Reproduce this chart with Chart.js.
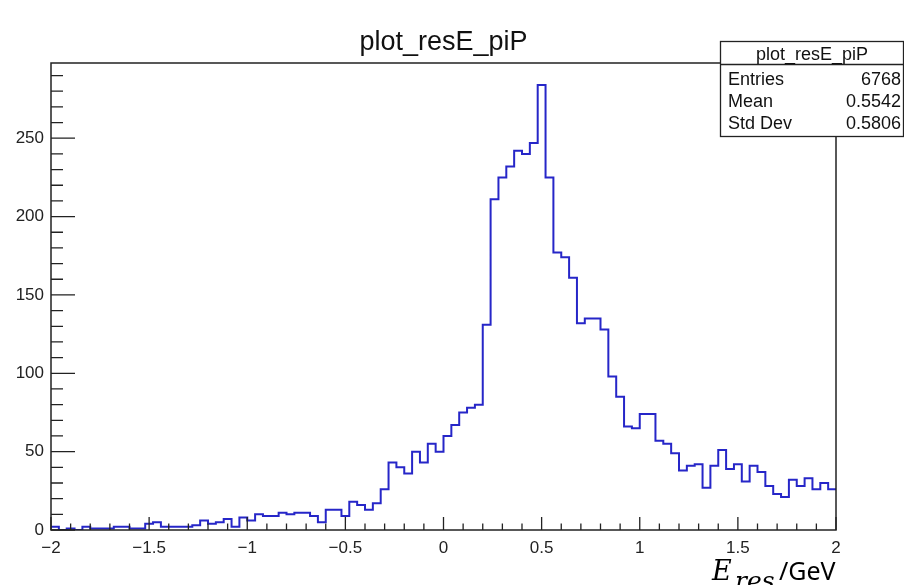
<!DOCTYPE html>
<html>
<head>
<meta charset="utf-8">
<title>plot_resE_piP</title>
<script src="https://cdn.jsdelivr.net/npm/chart.js@4.4.0/dist/chart.umd.min.js"></script>
<style>
    html, body { margin: 0; padding: 0; background: #ffffff; }
    #wrap { width: 904px; height: 585px; }
</style>
</head>
<body>
<div id="wrap"><canvas id="hist" width="904" height="585"></canvas></div>
<script>
// Histogram definition (100 bins from -2 to 2)
var xMin = -2;
var xMax = 2;
var yMax = 298;

// Bin contents, left to right
var counts = [
    2, 0, 1, 0, 2, 1, 1, 1, 2, 2,
    1, 1, 4, 5, 2, 2, 2, 2, 3, 6,
    4, 5, 7, 2, 8, 6, 10, 9, 9, 11,
    10, 11, 11, 9, 5, 13, 13, 9, 18, 16,
    13, 17, 26, 43, 40, 36, 50, 43, 55, 50,
    60, 67, 75, 78, 80, 131, 211, 225, 232, 242,
    240, 247, 284, 225, 177, 174, 161, 132, 135, 135,
    128, 98, 85, 66, 65, 74, 74, 57, 55, 49,
    38, 41, 42, 27, 41, 51, 39, 42, 31, 41,
    37, 28, 23, 21, 32, 28, 33, 26, 30, 26
];

// Axis tick labels
var xTicks = [-2, -1.5, -1, -0.5, 0, 0.5, 1, 1.5, 2];
var yTicks = [0, 50, 100, 150, 200, 250];
var xMinorStep = 0.1;
var yMinorStep = 10;

// Stats box
var histName = "plot_resE_piP";
var statLabels = ["Entries", "Mean", "Std Dev"];
var statValues = ["6768", "0.5542", "0.5806"];

// Step points at bin edges: each bin's count is carried by its upper edge
var binWidth = (xMax - xMin) / counts.length;
var points = [{ x: xMin, y: counts[0] }];
counts.forEach(function (c, i) {
    points.push({ x: xMin + (i + 1) * binWidth, y: c });
});

// Frame, inward ticks, title, stats box and axis title in ROOT style
var rootStyle = {
    id: 'rootStyle',
    afterDatasetsDraw: function (chart) {
        var ctx = chart.ctx;
        var a = chart.chartArea;
        var xs = chart.scales.x;
        var ys = chart.scales.y;
        ctx.save();

        // frame
        ctx.strokeStyle = '#222';
        ctx.lineWidth = 1.5;
        ctx.strokeRect(a.left, a.top, a.right - a.left, a.bottom - a.top);

        // ticks
        ctx.lineWidth = 1.3;
        ctx.beginPath();
        var nx = Math.round((xMax - xMin) / xMinorStep);
        for (var i = 0; i <= nx; i++) {
            var px = xs.getPixelForValue(xMin + i * xMinorStep);
            var len = (i % 5 === 0) ? 13 : 6.5;
            ctx.moveTo(px, a.bottom);
            ctx.lineTo(px, a.bottom - len);
        }
        for (var j = 0; j * yMinorStep <= yMax; j++) {
            var py = ys.getPixelForValue(j * yMinorStep);
            var l = (j % 5 === 0) ? 24 : 12;
            ctx.moveTo(a.left, py);
            ctx.lineTo(a.left + l, py);
        }
        ctx.stroke();

        // title
        ctx.fillStyle = '#111';
        ctx.font = '27px "Liberation Sans", Arial, sans-serif';
        ctx.textAlign = 'center';
        ctx.textBaseline = 'alphabetic';
        ctx.fillText(histName, (a.left + a.right) / 2, 50);

        // stats box
        var bx = 720.5, by = 41.5, bw = 183, bh = 95;
        ctx.fillStyle = '#fff';
        ctx.fillRect(bx, by, bw, bh);
        ctx.strokeStyle = '#222';
        ctx.lineWidth = 1.3;
        ctx.strokeRect(bx, by, bw, bh);
        ctx.beginPath();
        ctx.moveTo(bx, 64.5);
        ctx.lineTo(bx + bw, 64.5);
        ctx.stroke();
        ctx.fillStyle = '#111';
        ctx.font = '18px "Liberation Sans", Arial, sans-serif';
        ctx.textAlign = 'center';
        ctx.fillText(histName, bx + bw / 2, 60);
        for (var k = 0; k < statLabels.length; k++) {
            var ty = 85 + k * 22;
            ctx.textAlign = 'left';
            ctx.fillText(statLabels[k], 728, ty);
            ctx.textAlign = 'right';
            ctx.fillText(statValues[k], 901, ty);
        }

        // x axis title: E_res/GeV
        ctx.fillStyle = '#000';
        ctx.textAlign = 'left';
        ctx.font = 'italic 27px "DejaVu Serif", "Liberation Serif", serif';
        ctx.fillText('E', 712, 580);
        ctx.font = 'italic 25px "DejaVu Serif", "Liberation Serif", serif';
        ctx.fillText('res', 735, 589);
        ctx.font = '25px "Noto Sans", "Liberation Sans", sans-serif';
        ctx.fillText('/GeV', 779, 580);

        ctx.restore();
    }
};

var ctx = document.getElementById('hist').getContext('2d');
var tickFont = { family: '"Liberation Sans", Arial, sans-serif', size: 17 };

window.histChart = new Chart(ctx, {
    type: 'line',
    data: {
        datasets: [{
            label: histName,
            data: points,
            stepped: 'after',
            borderColor: '#2626c8',
            borderWidth: 2,
            pointRadius: 0,
            fill: false
        }]
    },
    options: {
        responsive: false,
        animation: false,
        layout: { padding: { left: 0, right: 68, top: 63, bottom: 0 } },
        plugins: {
            legend: { display: false },
            tooltip: { enabled: false },
            title: { display: false }
        },
        scales: {
            x: {
                type: 'linear',
                min: xMin,
                max: xMax,
                grid: { display: false, drawTicks: false },
                border: { display: false },
                afterBuildTicks: function (s) {
                    s.ticks = xTicks.map(function (v) { return { value: v }; });
                },
                afterFit: function (s) { s.height = 55; },
                ticks: {
                    autoSkip: false,
                    maxRotation: 0,
                    padding: 8,
                    color: '#222',
                    font: tickFont,
                    callback: function (v) { return String(v).replace('-', '\u2212'); }
                }
            },
            y: {
                min: 0,
                max: yMax,
                grid: { display: false, drawTicks: false },
                border: { display: false },
                afterBuildTicks: function (s) {
                    s.ticks = yTicks.map(function (v) { return { value: v }; });
                },
                afterFit: function (s) { s.width = 51; },
                ticks: {
                    padding: 7,
                    color: '#222',
                    font: tickFont
                }
            }
        }
    },
    plugins: [rootStyle]
});
</script>
</body>
</html>
